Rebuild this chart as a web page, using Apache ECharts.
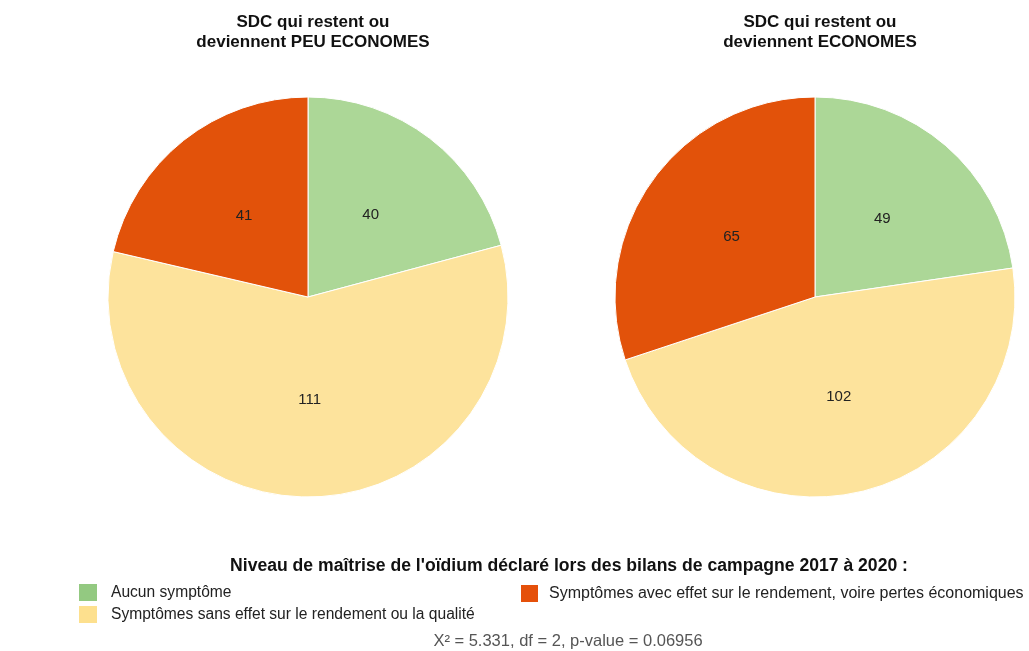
<!DOCTYPE html>
<html>
<head>
<meta charset="utf-8">
<script src="https://cdn.jsdelivr.net/npm/echarts@6/dist/echarts.min.js"></script>
<style>
  html, body { margin: 0; padding: 0; background: #fff; }
  #chart { width: 1029px; height: 651px; }
</style>
</head>
<body>
<div id="chart"></div>
<script>
    // categories and counts
    var categories = ['Aucun symptôme', 'Symptômes sans effet sur le rendement ou la qualité', 'Symptômes avec effet sur le rendement, voire pertes économiques']
    var colors = ['#acd797', '#fde39c', '#e2520a']
    var swatchColors = ['#93c981', '#fde08e', '#e5500a']
    var peuEconomes = [40, 111, 41]
    var economes = [49, 102, 65]
    var pieTitles = ['SDC qui restent ou\ndeviennent PEU ECONOMES', 'SDC qui restent ou\ndeviennent ECONOMES']

    function toData(values) {
        return values.map(function (v, i) {
            return { name: categories[i], value: v, itemStyle: { color: colors[i] } }
        })
    }

    function legendItem(i) {
        return { name: categories[i], itemStyle: { color: swatchColors[i] } }
    }

    var myChart = echarts.init(document.getElementById('chart'), null, { renderer: 'canvas' })
    var font = 'Liberation Sans, Arial, sans-serif'

    function pie(values, cx) {
        return {
            type: 'pie',
            center: [cx, 297],
            radius: [0, 200],
            startAngle: 90,
            clockwise: true,
            silent: true,
            itemStyle: { borderColor: '#fff', borderWidth: 1 },
            label: { position: 'inside', formatter: '{c}', color: '#222', fontSize: 15, fontFamily: font },
            labelLine: { show: false },
            emphasis: { disabled: true },
            data: toData(values)
        }
    }

    const option = {
        animation: false,
        title: [
            { text: pieTitles[0], left: 308, top: 7, textAlign: 'center',
              textStyle: { fontSize: 17, fontWeight: 'bold', color: '#111', fontFamily: font, lineHeight: 20 } },
            { text: pieTitles[1], left: 815, top: 7, textAlign: 'center',
              textStyle: { fontSize: 17, fontWeight: 'bold', color: '#111', fontFamily: font, lineHeight: 20 } },
            { text: "Niveau de maîtrise de l'oïdium déclaré lors des bilans de campagne 2017 à 2020 :", left: 564, top: 552, textAlign: 'center',
              textStyle: { fontSize: 17.6, fontWeight: 'bold', color: '#111', fontFamily: font } },
            { text: 'X² = 5.331, df = 2, p-value = 0.06956', left: 563, top: 628, textAlign: 'center',
              textStyle: { fontSize: 16.5, fontWeight: 'normal', color: '#555', fontFamily: font } }
        ],
        legend: [
            {
                data: [legendItem(0), legendItem(1)],
                orient: 'vertical', left: 77, top: 582, padding: 0,
                icon: 'rect', itemWidth: 20, itemHeight: 19, itemGap: 1,
                textStyle: { fontSize: 15.6, color: '#222', fontFamily: font, padding: [0, 0, 0, 8] },
                selectedMode: false
            },
            {
                data: [legendItem(2)],
                orient: 'vertical', left: 519, top: 583, padding: 0,
                icon: 'rect', itemWidth: 19, itemHeight: 19,
                textStyle: { fontSize: 16, color: '#222', fontFamily: font, padding: [0, 0, 0, 5] },
                selectedMode: false
            }
        ],
        series: [pie(peuEconomes, 308), pie(economes, 815)]
    }

    myChart.setOption(option)
</script>
</body>
</html>
